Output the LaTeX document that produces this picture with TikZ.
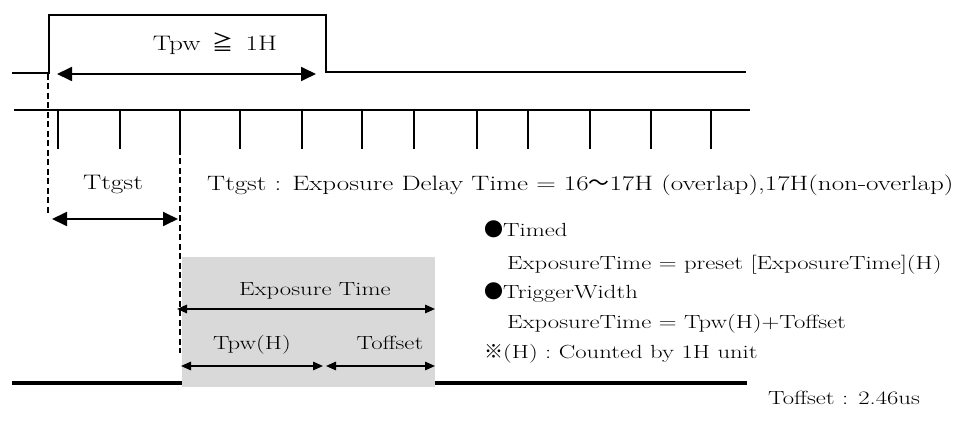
\documentclass[tikz,border=0pt]{standalone}
\usepackage{fontspec}
\setmainfont{Latin Modern Roman}[FakeStretch=1.3]
\newfontfamily\cjk{Noto Sans CJK JP}
\usetikzlibrary{arrows.meta}
\tikzset{
  sig/.style={line width=1.6pt},
  tick/.style={line width=1.3pt},
  base/.style={line width=3.3pt},
  guide/.style={line width=1.4pt, dash pattern=on 6pt off 3.5pt},
  bigdim/.style={line width=1.8pt, {Triangle[length=15pt,width=14pt]}-{Triangle[length=15pt,width=14pt]}},
  smalldim/.style={line width=1.5pt, {Triangle[length=10pt,width=8.5pt]}-{Triangle[length=10pt,width=8.5pt]}},
  lbl/.style={inner sep=0pt, font=\fontsize{19}{22}\selectfont},
  biglbl/.style={inner sep=0pt, font=\fontsize{21}{24}\selectfont},
}
\begin{document}
\begin{tikzpicture}[x=1pt,y=-1pt]
\path[use as bounding box] (0,0) rectangle (956,430);
% gray box
\fill[fill={rgb,255:red,217;green,217;blue,217}] (182,257) rectangle (435,387);
% trigger signal
\coordinate (t0) at (12,73);
\coordinate (t1) at (49,73);
\coordinate (t2) at (49,15);
\coordinate (t3) at (326,15);
\coordinate (t4) at (326,72);
\coordinate (t5) at (746,72);
\draw[sig] (t0) -- (t1) -- (t2) -- (t3) -- (t4) -- (t5);
% Tpw arrow
\coordinate (pwa) at (57,74);
\coordinate (pwb) at (316,74);
\draw[bigdim] (pwa) -- (pwb);
\node[biglbl, anchor=base] (tpw) at (215,51) {Tpw\hspace{12pt}{\cjk ≧}\hspace{12pt}1H};
% tick line
\coordinate (h0) at (14,110);
\coordinate (h1) at (750,110);
\draw[sig] (h0) -- (h1);
\foreach \x [count=\i] in {58,120,180,240,302,362,414,477,528,590,651,711} {
  \coordinate (k\i a) at (\x,110);
  \coordinate (k\i b) at (\x,149);
  \draw[tick] (k\i a) -- (k\i b);
}
% dashed guides
\coordinate (d1a) at (48,74);
\coordinate (d1b) at (48,216);
\draw[guide] (d1a) -- (d1b);
\coordinate (d2a) at (180,149);
\coordinate (d2b) at (180,353);
\draw[guide] (d2a) -- (d2b);
% Ttgst
\coordinate (tga) at (52,219);
\coordinate (tgb) at (178,219);
\draw[bigdim] (tga) -- (tgb);
\node[biglbl, anchor=base] (ttgst) at (113,190) {Ttgst};
\node[inner sep=0pt, font=\fontsize{20.8}{24}\selectfont, anchor=base west] (delay) at (207,191) {Ttgst : Exposure Delay Time = 16{\cjk ～}17H (overlap),17H(non-overlap)};
% bottom line
\coordinate (b0) at (12,383);
\coordinate (b1) at (182,383);
\coordinate (b2) at (435,383);
\coordinate (b3) at (747,383);
\draw[base] (b0) -- (b1);
\draw[base] (b2) -- (b3);
% exposure arrows
\coordinate (ea) at (177,309);
\coordinate (eb) at (435,309);
\draw[smalldim] (ea) -- (eb);
\node[lbl, anchor=base] (exp) at (315,296) {Exposure Time};
\coordinate (pa) at (181,366);
\coordinate (pb) at (323,366);
\coordinate (oa) at (326,366);
\coordinate (ob) at (435,366);
\draw[smalldim] (pa) -- (pb);
\draw[smalldim] (oa) -- (ob);
\node[lbl, anchor=base] (tpwh) at (252,349) {Tpw(H)};
\node[lbl, anchor=base] (toff) at (390,349) {Toffset};
% right notes
\node[lbl, anchor=base west] (n1) at (484,237) {{\cjk ●}Timed};
\node[lbl, anchor=base west] (n2) at (507,270) {ExposureTime = preset [ExposureTime](H)};
\node[lbl, anchor=base west] (n3) at (484,299) {{\cjk ●}TriggerWidth};
\node[lbl, anchor=base west] (n4) at (507,329) {ExposureTime = Tpw(H)+Toffset};
\node[lbl, anchor=base west] (n5) at (484,359) {{\cjk ※}(H) : Counted by 1H unit};
\node[lbl, anchor=base west] (n6) at (768,404) {Toffset : 2.46us};
\end{tikzpicture}
\end{document}
